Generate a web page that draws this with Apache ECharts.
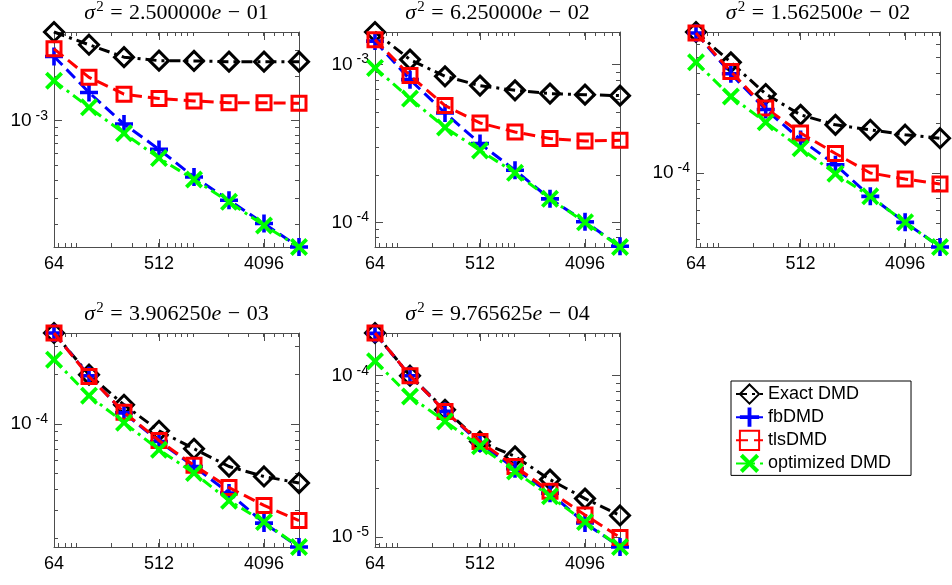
<!DOCTYPE html>
<html><head><meta charset="utf-8">
<script src="https://cdn.jsdelivr.net/npm/echarts@6/dist/echarts.min.js"></script>
<style>html,body{margin:0;padding:0;background:#fff}#c{width:952px;height:585px}</style>
</head><body><div id="c"></div>
<script>
// ---- data ----
const xValues = [64, 128, 256, 512, 1024, 2048, 4096, 8192];
const xTickLabels = [64, 512, 4096];
const seriesNames = ['Exact DMD', 'fbDMD', 'tlsDMD', 'optimized DMD'];
const sigmaMantissa = ['2.500000', '6.250000', '1.562500', '3.906250', '9.765625'];
const sigmaExponent = ['01', '02', '02', '03', '04'];

const exact1 = [3.96e-3, 3.25e-3, 2.68e-3, 2.54e-3, 2.53e-3, 2.50e-3, 2.50e-3, 2.50e-3];
const fb1    = [2.71e-3, 1.55e-3, 9.5e-4, 6.41e-4, 4.18e-4, 2.91e-4, 2.03e-4, 1.41e-4];
const tls1   = [3.05e-3, 1.96e-3, 1.51e-3, 1.41e-3, 1.36e-3, 1.32e-3, 1.32e-3, 1.31e-3];
const opt1   = [1.86e-3, 1.23e-3, 8.22e-4, 5.6e-4, 4.02e-4, 2.84e-4, 1.97e-4, 1.41e-4];

const exact2 = [1.61e-3, 1.076e-3, 8.43e-4, 7.36e-4, 6.87e-4, 6.55e-4, 6.45e-4, 6.36e-4];
const fb2    = [1.41e-3, 8.03e-4, 4.94e-4, 3.16e-4, 2.14e-4, 1.41e-4, 1.01e-4, 7.05e-5];
const tls2   = [1.44e-3, 8.52e-4, 5.5e-4, 4.27e-4, 3.74e-4, 3.4e-4, 3.28e-4, 3.31e-4];
const opt2   = [9.53e-4, 6.09e-4, 4.0e-4, 2.86e-4, 2.06e-4, 1.41e-4, 1.0e-4, 6.98e-5];

const exact3 = [7.07e-4, 4.64e-4, 2.99e-4, 2.24e-4, 1.95e-4, 1.82e-4, 1.70e-4, 1.62e-4];
const fb3    = [6.97e-4, 3.96e-4, 2.41e-4, 1.59e-4, 1.12e-4, 7.23e-5, 5.04e-5, 3.58e-5];
const tls3   = [6.97e-4, 4.09e-4, 2.46e-4, 1.74e-4, 1.31e-4, 1.0e-4, 9.2e-5, 8.58e-5];
const opt3   = [4.64e-4, 2.89e-4, 2.02e-4, 1.41e-4, 9.9e-5, 7.23e-5, 5.04e-5, 3.58e-5];

const exact4 = [3.59e-4, 2.0e-4, 1.31e-4, 9.1e-5, 7.07e-5, 5.51e-5, 4.79e-5, 4.37e-5];
const fb4    = [3.59e-4, 1.97e-4, 1.17e-4, 7.83e-5, 5.51e-5, 3.8e-5, 2.49e-5, 1.78e-5];
const tls4   = [3.59e-4, 1.95e-4, 1.18e-4, 7.94e-5, 5.6e-5, 4.1e-5, 3.19e-5, 2.58e-5];
const opt4   = [2.47e-4, 1.49e-4, 1.02e-4, 6.97e-5, 5.03e-5, 3.41e-5, 2.53e-5, 1.78e-5];

const exact5 = [1.84e-4, 1.0e-4, 6.15e-5, 3.91e-5, 3.16e-5, 2.27e-5, 1.73e-5, 1.36e-5];
const fb5    = [1.83e-4, 1.0e-4, 6.01e-5, 3.83e-5, 2.65e-5, 1.87e-5, 1.22e-5, 8.67e-6];
const tls5   = [1.84e-4, 1.0e-4, 6.01e-5, 3.91e-5, 2.74e-5, 1.92e-5, 1.37e-5, 9.94e-6];
const opt5   = [1.23e-4, 7.44e-5, 5.21e-5, 3.65e-5, 2.55e-5, 1.79e-5, 1.24e-5, 8.67e-6];

const panels = [
  [exact1, fb1, tls1, opt1],
  [exact2, fb2, tls2, opt2],
  [exact3, fb3, tls3, opt3],
  [exact4, fb4, tls4, opt4],
  [exact5, fb5, tls5, opt5]
];

// ---- layout & style ----
const gridRects = [
  {left: 54, top: 32, width: 245, height: 215},
  {left: 375, top: 32, width: 245, height: 215},
  {left: 696, top: 32, width: 244, height: 215},
  {left: 54, top: 333, width: 245, height: 214},
  {left: 375, top: 333, width: 245, height: 214}
];
const AX = '#4d4d4d';
const SANS = 'Liberation Sans';
const SERIF = 'Liberation Serif';
const PLUS = 'path://M4,0H6V4H10V6H6V10H4V6H0V4H4Z';
const CROSS = 'path://M1.5,0L5,3.5L8.5,0L10,1.5L6.5,5L10,8.5L8.5,10L5,6.5L1.5,10L0,8.5L3.5,5L0,1.5Z';
const styles = [
  {color: '#000000', dash: [11, 5, 3, 5], symbol: 'diamond', size: 19, fill: 'rgba(0,0,0,0)', border: 3},
  {color: '#0000ff', dash: [12, 6], symbol: PLUS, size: 18, fill: '#0000ff', border: 0},
  {color: '#ff0000', dash: [12, 6], symbol: 'rect', size: 14, fill: 'rgba(0,0,0,0)', border: 3},
  {color: '#00ff00', dash: [11, 5, 3, 5], symbol: CROSS, size: 18, fill: '#00ff00', border: 0}
];

function logMinor(lo, hi) {
  const out = [];
  for (let d = Math.floor(Math.log10(lo)) - 1; d <= Math.ceil(Math.log10(hi)); d++) {
    for (let k = 1; k <= 9; k++) {
      const v = k * Math.pow(10, d);
      if (v >= lo * 0.9999 && v <= hi * 1.0001) out.push(v);
    }
  }
  return out;
}
function decades(lo, hi) {
  const out = [];
  for (let d = Math.floor(Math.log10(lo)); d <= Math.ceil(Math.log10(hi)); d++) {
    const v = Math.pow(10, d);
    if (v >= lo * 0.9999 && v <= hi * 1.0001) out.push(v);
  }
  return out;
}
const xMinor = logMinor(64, 8192).filter(v => v !== 64);

const option = {
  animation: false,
  backgroundColor: '#fff',
  grid: [], xAxis: [], yAxis: [], series: [], title: [],
  legend: {
    orient: 'vertical', left: 731, top: 381,
    padding: [2.5, 20, 2.4, 4], itemGap: 2.9, itemWidth: 27, itemHeight: 24,
    backgroundColor: '#fff', borderColor: '#000', borderWidth: 1, borderRadius: 0,
    textStyle: {fontSize: 18, fontFamily: SANS, color: '#000'},
    data: seriesNames
  }
};

// tick-only axis in log space (value axis over log10 / log2 of the range)
function tickAxis(gi, pos, lo, hi, vals, len, withLine) {
  return {
    type: 'value', gridIndex: gi, position: pos, min: lo, max: hi,
    axisLine: {show: withLine, onZero: false, lineStyle: {color: AX, width: 1}},
    axisTick: {show: true, inside: true, length: len, customValues: vals, lineStyle: {color: AX, width: 1}},
    axisLabel: {show: false}, splitLine: {show: false}, splitArea: {show: false},
    axisPointer: {show: false}, silent: true
  };
}

panels.forEach((sets, gi) => {
  const r = gridRects[gi];
  option.grid.push({left: r.left, top: r.top, width: r.width, height: r.height, containLabel: false, outerBoundsMode: 'none', show: false});
  const all = [].concat(...sets);
  const yMin = Math.min(...all), yMax = Math.max(...all);
  const yMajor = decades(yMin, yMax);
  const yMinorV = logMinor(yMin, yMax).filter(v => yMajor.indexOf(v) < 0);
  const L2 = Math.log2, L10 = Math.log10;

  // main x axis (log) carries series and labels
  option.xAxis.push({
    type: 'log', logBase: 2, min: 64, max: 8192, gridIndex: gi, position: 'bottom',
    axisLine: {show: false}, axisTick: {show: false}, splitLine: {show: false}, axisPointer: {show: false},
    axisLabel: {show: true, customValues: xTickLabels, margin: 8, fontSize: 18, fontFamily: SANS, color: '#000',
      hideOverlap: false, showMinLabel: true, showMaxLabel: true, formatter: v => String(Math.round(v))}
  });
  option.xAxis.push(
    tickAxis(gi, 'bottom', L2(64), L2(8192), xTickLabels.map(L2), 8, true),
    tickAxis(gi, 'bottom', L2(64), L2(8192), xMinor.map(L2), 4, false),
    tickAxis(gi, 'top', L2(64), L2(8192), xTickLabels.map(L2), 8, true),
    tickAxis(gi, 'top', L2(64), L2(8192), xMinor.map(L2), 4, false)
  );
  option.yAxis.push({
    type: 'log', logBase: 10, min: yMin, max: yMax, gridIndex: gi, position: 'left',
    axisLine: {show: false}, axisTick: {show: false}, splitLine: {show: false}, axisPointer: {show: false},
    axisLabel: {show: true, customValues: yMajor, margin: 6, hideOverlap: false, showMinLabel: true, showMaxLabel: true,
      formatter: v => '{b|10}{s|' + Math.round(Math.log10(v)) + '}',
      rich: {b: {fontSize: 19, fontFamily: SANS, color: '#000'}, s: {fontSize: 14, fontFamily: SANS, color: '#000', padding: [0, 0, 10, 4]}}}
  });
  option.yAxis.push(
    tickAxis(gi, 'left', L10(yMin), L10(yMax), yMajor.map(L10), 8, true),
    tickAxis(gi, 'left', L10(yMin), L10(yMax), yMinorV.map(L10), 4, false),
    tickAxis(gi, 'right', L10(yMin), L10(yMax), yMajor.map(L10), 8, true),
    tickAxis(gi, 'right', L10(yMin), L10(yMax), yMinorV.map(L10), 4, false)
  );

  sets.forEach((vals, si) => {
    const st = styles[si];
    option.series.push({
      type: 'line', name: seriesNames[si],
      xAxisIndex: gi * 5, yAxisIndex: gi * 5,
      data: xValues.map((x, j) => [x, vals[j]]),
      symbol: st.symbol, symbolSize: st.size, showSymbol: true, clip: false,
      lineStyle: {color: st.color, width: 3, type: st.dash},
      itemStyle: {color: st.fill, borderColor: st.color, borderWidth: st.border},
      emphasis: {disabled: true}, z: 2 + si
    });
  });

  option.title.push({
    left: r.left + r.width / 2, top: r.top - 32, textAlign: 'center', padding: 0,
    text: '{i|σ}{s|2}{o| = }{n|' + sigmaMantissa[gi] + '}{i|e}{o| − }{n|' + sigmaExponent[gi] + '}',
    textStyle: {
      fontWeight: 'normal',
      rich: {
        i: {fontFamily: SERIF, fontStyle: 'italic', fontWeight: 'normal', fontSize: 22, color: '#000'},
        n: {fontFamily: SERIF, fontWeight: 'normal', fontSize: 22, color: '#000'},
        o: {fontFamily: SERIF, fontWeight: 'normal', fontSize: 22, color: '#000', padding: [0, 1, 0, 1]},
        s: {fontFamily: SERIF, fontWeight: 'normal', fontSize: 15, color: '#000', padding: [0, 0, 11, 1]}
      }
    }
  });
});

const chart = echarts.init(document.getElementById('c'), null, {renderer: 'canvas'});
chart.setOption(option);
</script>
</body></html>
